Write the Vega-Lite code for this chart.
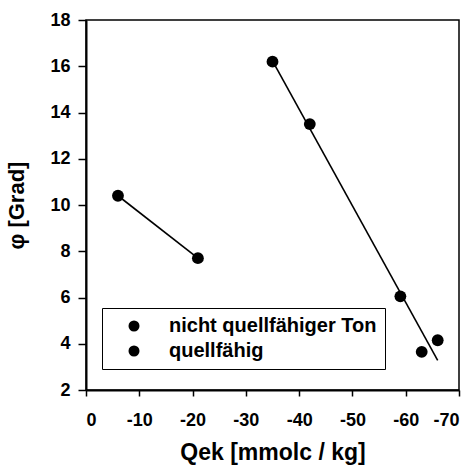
{
  "$schema": "https://vega.github.io/schema/vega-lite/v6.json",
  "width": 373,
  "height": 370,
  "autosize": {"type": "none"},
  "padding": {"left": 86, "top": 20, "right": 15, "bottom": 78},
  "background": "white",
  "config": {
    "font": "Liberation Sans",
    "view": {"stroke": "black", "strokeWidth": 1.5},
    "axis": {
      "grid": false,
      "domainColor": "black",
      "domainWidth": 2,
      "tickColor": "black",
      "tickWidth": 1.5,
      "labelFont": "Liberation Sans",
      "labelFontWeight": "bold",
      "labelFontSize": 18,
      "labelColor": "black",
      "titleFont": "Liberation Sans",
      "titleFontWeight": "bold",
      "titleFontSize": 22,
      "titleColor": "black"
    },
    "legend": {
      "strokeColor": "black",
      "padding": 8
    }
  },
  "data": {
    "values": [
      {"q": -6, "phi": 10.4, "Gruppe": "nicht quellfähiger Ton"},
      {"q": -21, "phi": 7.7, "Gruppe": "nicht quellfähiger Ton"},
      {"q": -35, "phi": 16.2, "Gruppe": "quellfähig"},
      {"q": -42, "phi": 13.5, "Gruppe": "quellfähig"},
      {"q": -59, "phi": 6.05, "Gruppe": "quellfähig"},
      {"q": -63, "phi": 3.65, "Gruppe": "quellfähig"},
      {"q": -66, "phi": 4.15, "Gruppe": "quellfähig"}
    ]
  },
  "encoding": {
    "x": {
      "field": "q",
      "type": "quantitative",
      "scale": {"domain": [0, -70], "nice": false},
      "axis": {
        "values": [0, -10, -20, -30, -40, -50, -60, -70],
        "labelExpr": "datum.value == 0 ? '0' : '-' + abs(datum.value)",
        "tickSize": 6,
        "labelPadding": 15,
        "title": "Qek [mmolc / kg]",
        "titleFontSize": 23,
        "titlePadding": 12
      }
    },
    "y": {
      "field": "phi",
      "type": "quantitative",
      "scale": {"domain": [2, 18], "nice": false},
      "axis": {
        "values": [2, 4, 6, 8, 10, 12, 14, 16, 18],
        "tickSize": 8,
        "labelPadding": 8,
        "title": "φ [Grad]",
        "titlePadding": 21
      }
    }
  },
  "layer": [
    {
      "transform": [{"regression": "phi", "on": "q", "groupby": ["Gruppe"]}],
      "mark": {"type": "line", "color": "black", "strokeWidth": 1.6},
      "encoding": {"detail": {"field": "Gruppe", "type": "nominal"}}
    },
    {
      "mark": {"type": "circle", "opacity": 1, "size": 140},
      "encoding": {
        "color": {
          "field": "Gruppe",
          "type": "nominal",
          "scale": {"range": ["black", "black"]},
          "legend": {
            "title": null,
            "orient": "none",
            "legendX": 16,
            "legendY": 288,
            "strokeColor": "black",
            "padding": 8,
            "symbolType": "circle",
            "symbolSize": 121,
            "symbolOffset": 14,
            "symbolStrokeWidth": 0,
            "labelOffset": 25,
            "labelFont": "Liberation Sans",
            "labelFontWeight": "bold",
            "labelFontSize": 20,
            "labelColor": "black",
            "labelLimit": 400,
            "rowPadding": 5
          }
        }
      }
    }
  ]
}
